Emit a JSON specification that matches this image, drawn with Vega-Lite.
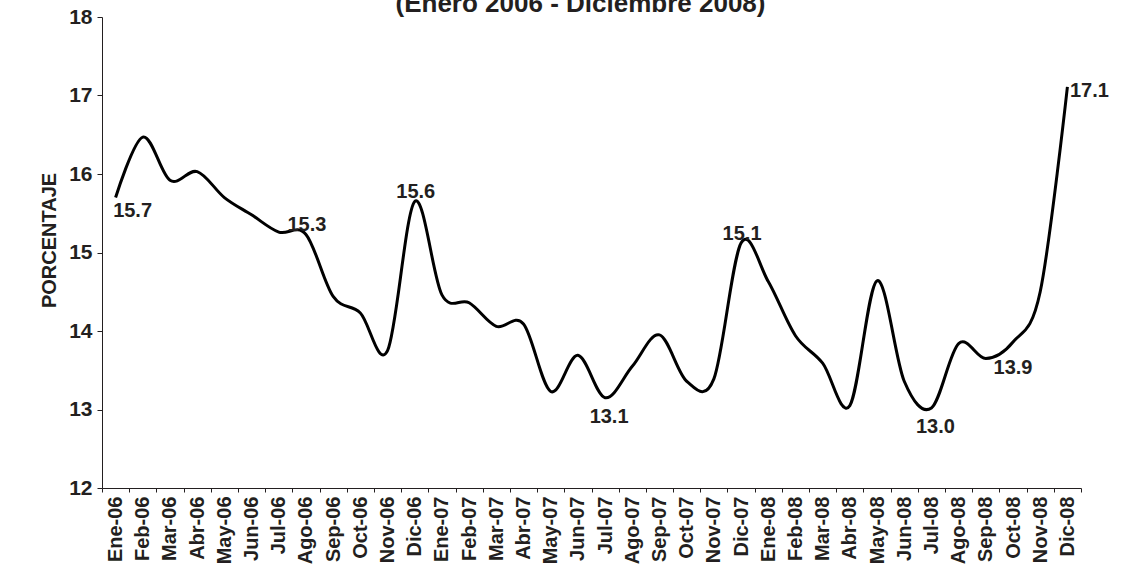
{
  "$schema": "https://vega.github.io/schema/vega-lite/v6.json",
  "width": 979,
  "height": 471,
  "autosize": {"type": "none"},
  "padding": {"left": 102, "top": 17, "right": 46, "bottom": 76},
  "background": "white",
  "title": {
    "text": "(Enero 2006 - Diciembre 2008)",
    "font": "Liberation Sans",
    "fontSize": 26,
    "fontWeight": "bold",
    "color": "#231f20",
    "anchor": "middle",
    "frame": "group",
    "dx": -11,
    "baseline": "alphabetic",
    "offset": -32
  },
  "config": {
    "view": {"stroke": null},
    "axis": {
      "labelFont": "Liberation Sans",
      "labelFontSize": 20,
      "labelFontWeight": "bold",
      "labelColor": "#231f20",
      "titleFont": "Liberation Sans",
      "titleFontSize": 20,
      "titleFontWeight": "bold",
      "titleColor": "#231f20",
      "domainColor": "#231f20",
      "tickColor": "#231f20",
      "domainWidth": 1,
      "tickWidth": 1,
      "grid": false
    }
  },
  "data": {
    "values": [
      {"mes": "Ene-06", "valor": 15.70, "etiqueta": "15.7"},
      {"mes": "Feb-06", "valor": 16.47, "etiqueta": ""},
      {"mes": "Mar-06", "valor": 15.92, "etiqueta": ""},
      {"mes": "Abr-06", "valor": 16.03, "etiqueta": ""},
      {"mes": "May-06", "valor": 15.70, "etiqueta": ""},
      {"mes": "Jun-06", "valor": 15.48, "etiqueta": ""},
      {"mes": "Jul-06", "valor": 15.26, "etiqueta": ""},
      {"mes": "Ago-06", "valor": 15.23, "etiqueta": "15.3"},
      {"mes": "Sep-06", "valor": 14.44, "etiqueta": ""},
      {"mes": "Oct-06", "valor": 14.23, "etiqueta": ""},
      {"mes": "Nov-06", "valor": 13.75, "etiqueta": ""},
      {"mes": "Dic-06", "valor": 15.65, "etiqueta": "15.6"},
      {"mes": "Ene-07", "valor": 14.46, "etiqueta": ""},
      {"mes": "Feb-07", "valor": 14.36, "etiqueta": ""},
      {"mes": "Mar-07", "valor": 14.06, "etiqueta": ""},
      {"mes": "Abr-07", "valor": 14.09, "etiqueta": ""},
      {"mes": "May-07", "valor": 13.23, "etiqueta": ""},
      {"mes": "Jun-07", "valor": 13.69, "etiqueta": ""},
      {"mes": "Jul-07", "valor": 13.15, "etiqueta": "13.1"},
      {"mes": "Ago-07", "valor": 13.55, "etiqueta": ""},
      {"mes": "Sep-07", "valor": 13.95, "etiqueta": ""},
      {"mes": "Oct-07", "valor": 13.36, "etiqueta": ""},
      {"mes": "Nov-07", "valor": 13.39, "etiqueta": ""},
      {"mes": "Dic-07", "valor": 15.12, "etiqueta": "15.1"},
      {"mes": "Ene-08", "valor": 14.63, "etiqueta": ""},
      {"mes": "Feb-08", "valor": 13.94, "etiqueta": ""},
      {"mes": "Mar-08", "valor": 13.59, "etiqueta": ""},
      {"mes": "Abr-08", "valor": 13.05, "etiqueta": ""},
      {"mes": "May-08", "valor": 14.64, "etiqueta": ""},
      {"mes": "Jun-08", "valor": 13.36, "etiqueta": ""},
      {"mes": "Jul-08", "valor": 13.02, "etiqueta": "13.0"},
      {"mes": "Ago-08", "valor": 13.84, "etiqueta": ""},
      {"mes": "Sep-08", "valor": 13.65, "etiqueta": ""},
      {"mes": "Oct-08", "valor": 13.86, "etiqueta": "13.9"},
      {"mes": "Nov-08", "valor": 14.50, "etiqueta": ""},
      {"mes": "Dic-08", "valor": 17.11, "etiqueta": "17.1"}
    ]
  },
  "encoding": {
    "x": {
      "field": "mes",
      "type": "ordinal",
      "sort": null,
      "scale": {"type": "band", "paddingInner": 0, "paddingOuter": 0},
      "axis": {
        "title": null,
        "labelAngle": -90,
        "labelOverlap": false,
        "labelFontWeight": "bold",
        "tickBand": "extent",
        "tickSize": 4,
        "labelPadding": 4
      }
    },
    "y": {
      "field": "valor",
      "type": "quantitative",
      "scale": {"domain": [12, 18], "nice": false, "zero": false},
      "axis": {
        "title": "PORCENTAJE",
        "values": [12, 13, 14, 15, 16, 17, 18],
        "labelFontWeight": "bold",
        "labelFontSize": 21,
        "tickSize": 5,
        "labelPadding": 5,
        "titleAngle": 270,
        "titleAlign": "center",
        "titleBaseline": "middle",
        "titleX": -53,
        "titleY": 223
      }
    }
  },
  "layer": [
    {
      "mark": {"type": "line", "interpolate": "cardinal", "tension": 0, "stroke": "#000000", "strokeWidth": 3}
    },
    {
      "transform": [{"filter": "indexof(['Ago-06','Dic-06','Dic-07'], datum.mes) >= 0"}],
      "mark": {"type": "text", "font": "Liberation Sans", "fontSize": 20, "fontWeight": "bold", "color": "#231f20", "align": "center", "baseline": "middle", "dx": 1, "dy": -9},
      "encoding": {"text": {"field": "etiqueta"}}
    },
    {
      "transform": [{"filter": "indexof(['Jul-07','Jul-08'], datum.mes) >= 0"}],
      "mark": {"type": "text", "font": "Liberation Sans", "fontSize": 20, "fontWeight": "bold", "color": "#231f20", "align": "center", "baseline": "middle", "dx": 4, "dy": 19},
      "encoding": {"text": {"field": "etiqueta"}}
    },
    {
      "transform": [{"filter": "datum.mes == 'Ene-06'"}],
      "mark": {"type": "text", "font": "Liberation Sans", "fontSize": 20, "fontWeight": "bold", "color": "#231f20", "align": "center", "baseline": "middle", "dx": 17, "dy": 13},
      "encoding": {"text": {"field": "etiqueta"}}
    },
    {
      "transform": [{"filter": "datum.mes == 'Oct-08'"}],
      "mark": {"type": "text", "font": "Liberation Sans", "fontSize": 20, "fontWeight": "bold", "color": "#231f20", "align": "center", "baseline": "middle", "dx": 0, "dy": 26},
      "encoding": {"text": {"field": "etiqueta"}}
    },
    {
      "transform": [{"filter": "datum.mes == 'Dic-08'"}],
      "mark": {"type": "text", "font": "Liberation Sans", "fontSize": 20, "fontWeight": "bold", "color": "#231f20", "align": "center", "baseline": "middle", "dx": 22, "dy": 4},
      "encoding": {"text": {"field": "etiqueta"}}
    }
  ]
}
